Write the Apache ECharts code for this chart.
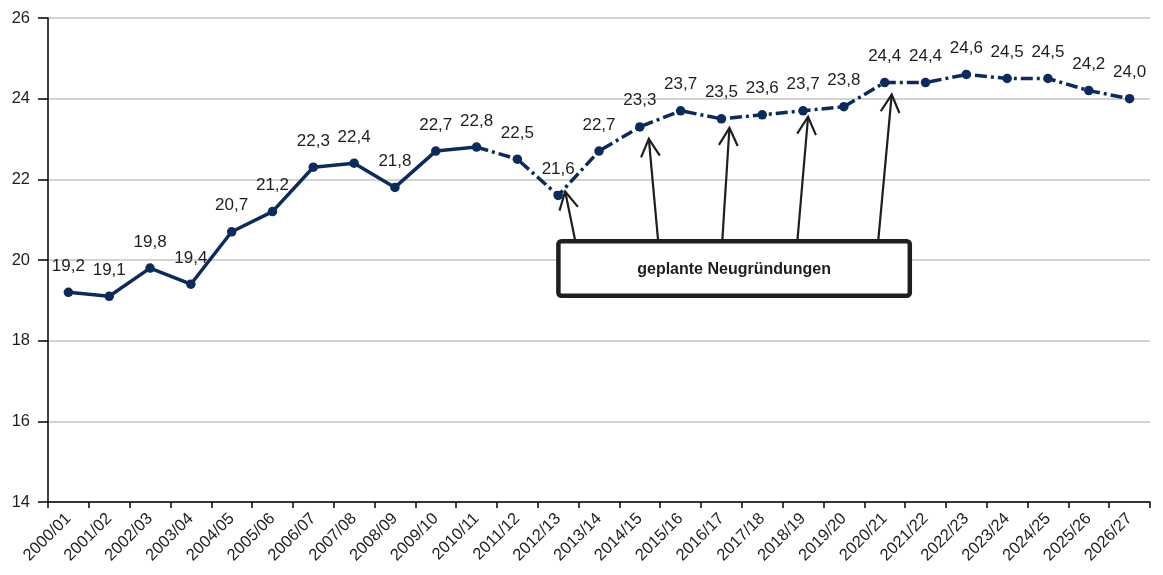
<!DOCTYPE html>
<html>
<head>
<meta charset="utf-8">
<script src="https://cdn.jsdelivr.net/npm/echarts@6/dist/echarts.min.js"></script>
<style>
  html, body { margin: 0; padding: 0; background: #ffffff; }
  #chart { width: 1163px; height: 575px; }
</style>
</head>
<body>
<div id="chart"></div>
<script>
// School years on the category axis
const schoolYears = [
  '2000/01', '2001/02', '2002/03', '2003/04', '2004/05', '2005/06', '2006/07',
  '2007/08', '2008/09', '2009/10', '2010/11', '2011/12', '2012/13', '2013/14',
  '2014/15', '2015/16', '2016/17', '2017/18', '2018/19', '2019/20', '2020/21',
  '2021/22', '2022/23', '2023/24', '2024/25', '2025/26', '2026/27'
];

// Values per school year
const values = [
  19.2, 19.1, 19.8, 19.4, 20.7, 21.2, 22.3,
  22.4, 21.8, 22.7, 22.8, 22.5, 21.6, 22.7,
  23.3, 23.7, 23.5, 23.6, 23.7, 23.8, 24.4,
  24.4, 24.6, 24.5, 24.5, 24.2, 24.0
];

// Value axis ticks
const yTicks = [14, 16, 18, 20, 22, 24, 26];

// Last year drawn with a solid line; the rest is the projection
const lastActual = '2010/11';

// Years the "planned new schools" arrows point at
const noteLabel = 'geplante Neugründungen';
const noteTargets = ['2012/13', '2014/15', '2016/17', '2018/19', '2020/21'];

const NAVY = '#0c2a5a';
const INK = '#1e1e1e';
const FONT = "'Liberation Sans', Arial, sans-serif";

const splitIdx = schoolYears.indexOf(lastActual);
const fmt = p => p.value.toFixed(1).replace('.', ',');

const solidData = values.map((v, i) => (i <= splitIdx ? v : null));
const dashedData = values.map((v, i) => {
  if (i < splitIdx) return null;
  if (i === splitIdx) return { value: v, symbol: 'none', label: { show: false } };
  return v;
});

const labelStyle = {
  show: true,
  position: 'top',
  distance: 13,
  formatter: fmt,
  fontFamily: FONT,
  fontSize: 17,
  color: INK
};

const chart = echarts.init(document.getElementById('chart'), null, { renderer: 'canvas' });

chart.setOption({
  animation: false,
  backgroundColor: '#ffffff',
  grid: { left: 48, right: 13, top: 18, bottom: 73 },
  xAxis: {
    type: 'category',
    data: schoolYears,
    boundaryGap: true,
    axisLine: { lineStyle: { color: '#000', width: 1.5 } },
    axisTick: { show: true, length: 6, lineStyle: { color: '#000', width: 1.5 } },
    axisLabel: {
      rotate: 45,
      interval: 0,
      margin: 14,
      fontFamily: FONT,
      fontSize: 16.5,
      color: INK
    },
    splitLine: { show: false }
  },
  yAxis: {
    type: 'value',
    min: yTicks[0],
    max: yTicks[yTicks.length - 1],
    interval: yTicks[1] - yTicks[0],
    axisLine: { show: true, lineStyle: { color: '#000', width: 1.5 } },
    axisTick: { show: true, length: 10, lineStyle: { color: '#000', width: 1.5 } },
    axisLabel: {
      margin: 18,
      padding: [4, 0, 0, 0],
      fontFamily: FONT,
      fontSize: 16.5,
      color: INK
    },
    splitLine: { show: true, lineStyle: { color: '#c4c4c4', width: 1.5 } }
  },
  series: [
    {
      type: 'line',
      data: solidData,
      symbol: 'circle',
      symbolSize: 9.5,
      showAllSymbol: true,
      connectNulls: false,
      lineStyle: { color: NAVY, width: 3.5 },
      itemStyle: { color: NAVY },
      label: labelStyle,
      z: 3
    },
    {
      type: 'line',
      data: dashedData,
      symbol: 'circle',
      symbolSize: 9.5,
      showAllSymbol: true,
      connectNulls: false,
      lineStyle: { color: NAVY, width: 3.5, type: [12, 4, 3, 4], cap: 'butt' },
      itemStyle: { color: NAVY },
      label: labelStyle,
      z: 3
    }
  ]
});

// Annotation: a box below the projection with arrows to the years with new schools
(function drawNote() {
  const x0 = chart.convertToPixel({ xAxisIndex: 0 }, schoolYears[0]);
  const x1 = chart.convertToPixel({ xAxisIndex: 0 }, schoolYears[1]);
  const step = x1 - x0;
  const xAt = idx => x0 + idx * step;            // fractional category position
  const yAt = v => chart.convertToPixel({ yAxisIndex: 0 }, v);

  // box extent in category index / value units
  const box = { from: 11.95, to: 20.67, top: 20.52, bottom: 19.06 };
  // where each arrow leaves the box (category index) and where its tip sits relative to its point
  const tails = [12.42, 14.45, 16.02, 17.86, 19.84];
  const tipOffsets = [[7, -4], [9, 12], [8, 9], [5, 6], [7, 12]];

  const border = 4.5;
  const bx = xAt(box.from) + border / 2;
  const bw = xAt(box.to) - border / 2 - bx;
  const by = yAt(box.top) + border / 2;
  const bh = yAt(box.bottom) - border / 2 - by;

  const elements = [];
  const headLen = 20;
  const headAng = 28 * Math.PI / 180;

  noteTargets.forEach((year, k) => {
    const i = schoolYears.indexOf(year);
    const px = chart.convertToPixel({ seriesIndex: 1 }, [i, values[i]]);
    const tip = [px[0] + tipOffsets[k][0], px[1] + tipOffsets[k][1]];
    const tail = [xAt(tails[k]), by];
    const dx = tail[0] - tip[0], dy = tail[1] - tip[1];
    const len = Math.hypot(dx, dy);
    const ux = dx / len, uy = dy / len;
    const rot = a => [
      tip[0] + headLen * (ux * Math.cos(a) - uy * Math.sin(a)),
      tip[1] + headLen * (ux * Math.sin(a) + uy * Math.cos(a))
    ];
    elements.push({
      type: 'line', z: 100, silent: true,
      shape: { x1: tail[0], y1: tail[1], x2: tip[0], y2: tip[1] },
      style: { stroke: INK, lineWidth: 2.2 }
    });
    elements.push({
      type: 'polyline', z: 100, silent: true,
      shape: { points: [rot(headAng), tip, rot(-headAng)] },
      style: { stroke: INK, lineWidth: 2.2, fill: null, lineJoin: 'miter' }
    });
  });

  elements.push({
    type: 'rect', z: 101, silent: true,
    shape: { x: bx, y: by, width: bw, height: bh, r: 3 },
    style: { fill: '#ffffff', stroke: INK, lineWidth: border }
  });
  elements.push({
    type: 'text', z: 102, silent: true,
    x: bx + bw / 2, y: by + bh / 2 + 1,
    style: {
      text: noteLabel,
      fill: INK,
      font: "bold 16px 'Liberation Sans', Arial, sans-serif",
      align: 'center',
      verticalAlign: 'middle'
    }
  });

  chart.setOption({ graphic: { elements: elements } });
})();
</script>
</body>
</html>
